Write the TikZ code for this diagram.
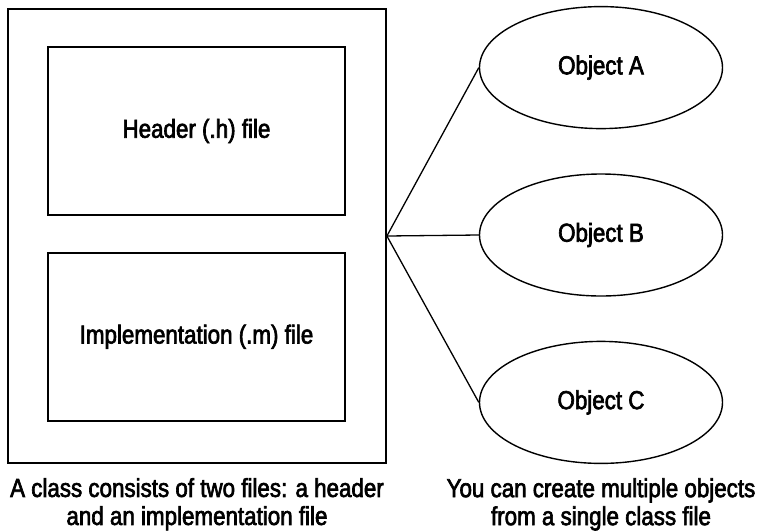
\documentclass[tikz,border=0pt]{standalone}
\usepackage{fontspec}
\setmainfont{Liberation Sans}[FakeStretch=0.86, FakeBold=2.5]
\usetikzlibrary{positioning, shapes.geometric}

\begin{document}
\begin{tikzpicture}[
	x=1pt, y=-1pt,
	every node/.style={align=center, font=\fontsize{26}{28}\selectfont},
	classbox/.style={rectangle, draw, line width=1.8pt, minimum width=378pt, minimum height=454pt},
	filebox/.style={rectangle, draw, line width=1.8pt, minimum width=297pt, minimum height=168pt},
	objellipse/.style={ellipse, draw, line width=1.4pt, minimum width=243pt, minimum height=122pt, inner sep=0pt},
	link/.style={line width=1.3pt},
	caption/.style={inner sep=0pt}
	]
	\useasboundingbox (0,0) rectangle (764,531);
	% the class and its two files
	\node[classbox] (class) at (197,236) {};
	\node[filebox] (header) at (196.5,131) {Header (.h) file};
	\node[filebox, below=36pt of header] (impl) {Implementation (.m) file};
	% objects made from the class
	\node[objellipse] (objb) at (601,235) {Object B};
	\node[objellipse, above=44pt of objb] (obja) {Object A};
	\node[objellipse, below=44pt of objb] (objc) {Object C};
	\draw[link] (class.east) -- (obja.west);
	\draw[link] (class.east) -- (objb.west);
	\draw[link] (class.east) -- (objc.west);
	% captions
	\node[caption, below=14pt of class] (classnote) {A class consists of two files: a header\\and an implementation file};
	\node[caption, below=14pt of objc] (objnote) {You can create multiple objects\\from a single class file};
\end{tikzpicture}
\end{document}
